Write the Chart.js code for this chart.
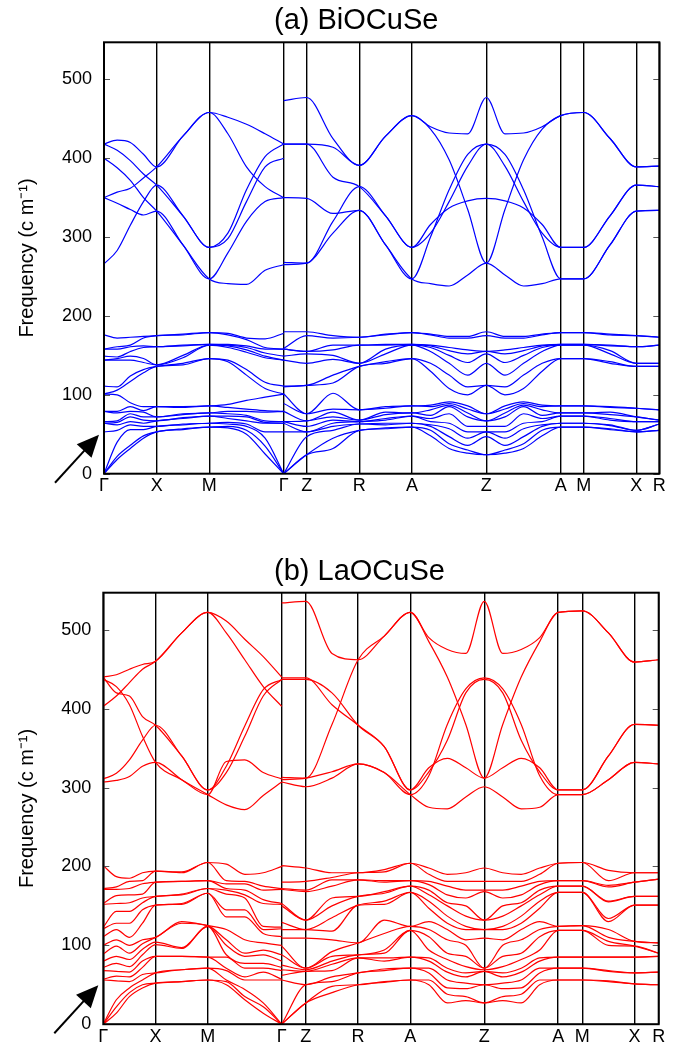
<!DOCTYPE html>
<html><head><meta charset="utf-8">
<script src="https://cdn.jsdelivr.net/npm/chart.js@4.4.1/dist/chart.umd.min.js"></script>
<style>
html,body{margin:0;padding:0;background:#fff;}
#wrap{position:relative;width:682px;height:1047px;overflow:hidden;}
.box{position:absolute;left:0;width:682px;}
</style></head><body>
<div id="wrap">
<div class="box" style="top:0;height:523px"><canvas id="cA"></canvas></div>
<div class="box" style="top:523px;height:524px"><canvas id="cB"></canvas></div>
</div>
<script>
// ---------- k-path (tick positions and labels) ----------
const kLabels = ['Γ','X','M','Γ','Z','R','A','Z','A','M','X','R'];
const kPosA = [0, 0.5, 1.0, 1.7071, 1.9251, 2.4251, 2.9251, 3.6322, 4.3393, 4.5573, 5.0573, 5.2753];
const kPosB = [0, 0.5, 1.0, 1.7071, 1.9381, 2.4381, 2.9381, 3.6452, 4.3523, 4.5833, 5.0833, 5.3143];
// sample columns, as (tick index + fraction of segment); a break sits between columns 10 and 11 (Γ)
const colIdx = [0,.25,.5,.75,1,1.5,2,2.25,2.5,2.75,3, 3,4,4.5,5,5.5,6,6.25,6.5,6.75,7,7.25,7.5,7.75,8,9,9.5,10,11];
const yTicks = [0,100,200,300,400,500];

// ---------- (a) BiOCuSe: frequencies (cm^-1) per column, low 18 bands ----------
const bioLow = [
 [0,0,0,53,64,64,66,79,79,101,101,111,144,144,149,158,158,176],
 [18,22,40,55,62,65,67,77,79,100,106,110,144,146,148,158,161,172],
 [32,36,56,62,66,72,76,79,85,90,117,124,144,149,155,161,163,173],
 [45,48,56,60,64,68,72,78,80,85,128,132,141,146,160,162,172,174],
 [53,53,60,60,67,67,72,72,85,85,136,136,138,138,161,161,175,175],
 [56,57,62,63,70,71,75,76,84,85,138,140,147,150,162,163,176,177],
 [59,59,64,64,73,73,77,77,86,86,146,146,163,163,164,164,179,179],
 [58,60,63,65,70,73,76,79,84,88,142,144,160,162,163,164,176,178],
 [50,55,60,63,67,72,74,79,82,93,125,132,154,157,160,162,170,172],
 [25,35,45,53,64,65,67,78,80,97,108,116,147,149,153,158,160,171],
 [0,0,0,53,64,64,66,79,79,101,101,111,144,144,149,158,158,178],
 [0,0,0,53,64,66,66,79,89,101,110,111,144,149,158,158,159,180],
 [24,24,47,53,53,60,67,67,76,76,112,112,140,152,155,155,175,180],
 [32,45,55,60,64,68,72,78,82,102,115,125,145,150,157,163,172,175],
 [55,55,63,63,66,66,68,68,81,81,136,136,140,140,163,163,173,173],
 [57,58,62,64,68,70,75,78,83,85,140,142,152,158,163,164,176,177],
 [59,59,64,64,73,73,77,77,86,86,146,146,163,163,164,164,179,179],
 [48,55,60,62,66,70,74,81,85,87,130,140,155,160,162,163,176,177],
 [32,38,47,57,64,76,85,87,89,91,108,125,140,150,156,160,172,174],
 [26,30,36,45,53,60,72,77,82,86,100,110,125,141,152,157,172,174],
 [24,24,47,53,53,60,67,67,76,76,112,112,140,152,155,155,175,180],
 [26,30,36,45,53,60,72,77,82,86,100,110,125,141,152,157,172,174],
 [32,38,47,57,64,76,85,87,89,91,108,125,140,150,156,160,172,174],
 [48,55,60,62,66,70,74,81,85,87,130,140,155,160,162,163,176,177],
 [59,59,64,64,73,73,77,77,86,86,146,146,163,163,164,164,179,179],
 [59,59,64,64,73,73,77,77,86,86,146,146,163,163,164,164,179,179],
 [56,57,61,62,68,70,75,78,84,85,140,142,152,156,162,163,176,177],
 [53,53,55,55,66,66,72,72,83,83,136,136,140,140,161,161,175,175],
 [55,55,63,63,66,66,68,68,81,81,136,136,140,140,163,163,173,173]
];
// (a) high 6 bands, each column listed in band order
const bioHigh = [
 [266,350,350,400,418,418],
 [283,343,357,388,410,423],
 [315,335,362,372,397,420],
 [345,328,375,350,380,405],
 [366,333,389,333,366,389],
 [327,290,428,290,327,428],
 [287,247,458,247,287,458],
 [305,241,431,280,298,452],
 [360,240,389,320,345,443],
 [402,258,364,345,389,431],
 [418,265,350,350,400,418],
 [418,265,268,350,473,418],
 [418,267,267,349,477,418],
 [414,305,320,330,425,376],
 [391,334,364,334,391,364],
 [428,290,327,290,428,327],
 [454,247,287,247,454,287],
 [437,241,316,300,440,305],
 [398,238,337,360,432,345],
 [335,252,346,405,431,390],
 [267,267,349,418,477,418],
 [335,252,346,405,431,390],
 [398,238,337,360,432,345],
 [437,241,316,300,440,305],
 [454,247,287,247,454,287],
 [458,247,287,247,458,287],
 [425,290,327,290,425,327],
 [389,333,366,333,389,366],
 [390,334,364,334,390,364]
];

// ---------- (b) LaOCuSe ----------
const laLow = [
 [0,0,0,56,57,68,72,80,89,100,111,121,123,152,153,171,172,201],
 [14,22,31,55,61,67,77,86,99,107,120,128,143,153,163,171,174,187],
 [35,40,46,54,60,66,73,82,90,100,110,128,143,154,164,172,181,185],
 [46,50,56,63,72,80,88,95,102,107,128,145,154,160,165,178,182,192],
 [52,52,65,65,86,86,101,104,110,110,151,151,162,162,180,180,194,194],
 [54,54,69,69,86,86,96,97,128,130,152,153,164,165,181,181,192,193],
 [56,56,71,71,85,85,124,124,125,125,166,166,172,172,182,182,205,205],
 [50,54,56,68,71,85,88,100,107,120,136,145,165,170,172,178,182,203],
 [31,35,44,56,60,71,77,86,90,107,136,145,160,164,170,178,181,190],
 [14,22,27,56,66,71,77,88,94,103,115,120,124,153,158,170,175,192],
 [0,0,0,56,57,68,72,80,88,100,111,121,123,152,153,171,172,200],
 [0,0,0,56,62,69,75,88,99,109,120,129,150,153,171,172,180,201],
 [27,27,50,50,67,67,69,71,71,109,120,120,132,132,168,170,181,198],
 [40,48,54,60,68,76,80,86,92,107,118,135,150,160,175,183,186,192],
 [50,50,65,65,84,84,88,88,103,103,151,151,162,162,183,183,192,192],
 [53,54,68,70,80,84,90,94,115,132,152,156,166,168,180,182,193,196],
 [56,56,71,71,85,85,119,119,124,124,167,167,175,175,182,182,204,204],
 [50,56,65,71,80,84,94,111,120,130,147,156,164,170,177,181,190,198],
 [27,38,46,56,66,71,82,90,107,120,128,137,150,154,164,175,181,190],
 [30,35,45,52,60,65,73,86,100,107,120,124,137,150,160,170,181,192],
 [27,27,50,50,67,67,69,71,71,109,120,120,132,132,168,170,181,198],
 [30,35,45,52,60,65,73,86,100,107,120,124,137,150,160,170,181,192],
 [27,38,46,56,66,71,82,90,107,120,128,137,150,154,164,175,181,190],
 [50,56,65,71,80,84,94,111,120,130,147,156,164,170,177,181,190,198],
 [56,56,71,71,85,85,119,119,124,124,167,167,175,175,182,182,204,204],
 [56,56,71,71,85,85,119,119,125,125,167,167,175,175,182,182,205,205],
 [54,55,67,68,85,85,100,105,110,120,130,134,155,156,174,176,182,195],
 [51,51,65,65,85,85,99,99,105,105,151,151,162,162,180,180,192,192],
 [50,50,66,66,86,86,90,90,103,103,151,151,162,162,184,184,192,192]
];
const laHigh = [
 [307,311,403,437,440,440],
 [309,318,416,428,420,443],
 [314,335,433,405,416,450],
 [327,360,450,365,390,456],
 [332,379,460,332,379,460],
 [310,340,496,310,340,496],
 [291,297,522,291,297,522],
 [278,319,496,333,327,511],
 [272,365,462,335,378,488],
 [290,416,428,319,424,466],
 [307,437,403,311,437,440],
 [307,437,534,313,439,310],
 [301,437,536,312,439,312],
 [312,420,470,380,405,320],
 [330,379,462,462,379,330],
 [319,352,492,492,352,319],
 [291,297,522,522,297,291],
 [275,320,490,485,325,315],
 [273,360,475,440,337,380],
 [288,420,470,380,325,425],
 [301,437,536,312,312,439],
 [288,420,470,380,325,425],
 [273,360,475,440,337,380],
 [275,320,490,485,325,315],
 [291,297,522,522,297,291],
 [291,297,524,524,297,291],
 [310,340,496,496,340,310],
 [332,380,459,459,380,332],
 [330,379,462,462,379,330]
];

// ---------- build ----------
const FONT = "'Liberation Sans', Arial, Helvetica, sans-serif";
function colX(kPos){
  return colIdx.map(c=>{const k=Math.floor(c); const f=c-k; return k>=kPos.length-1?kPos[kPos.length-1]:kPos[k]+f*(kPos[k+1]-kPos[k]);});
}
function makeDatasets(cols, kPos, color){
  const xs = colX(kPos);
  const n = cols[0].length, out=[];
  for(let j=0;j<n;j++){
    const data=[];
    for(let i=0;i<cols.length;i++){
      if(i===11) data.push({x:xs[10], y:null});
      data.push({x:xs[i], y:cols[i][j]});
    }
    out.push({data, borderColor:color, borderWidth:1.2, pointRadius:0, fill:false,
      cubicInterpolationMode:'monotone', spanGaps:false});
  }
  return out;
}
const framePlugin = {
  id:'frame',
  afterDraw(chart, args, opts){
    const {ctx, chartArea:a, scales:{y}} = chart;
    ctx.save();
    ctx.strokeStyle='#555'; ctx.lineWidth=1;
    y.ticks.forEach(t=>{
      const py=Math.round(y.getPixelForValue(t.value))+0.5;
      ctx.beginPath(); ctx.moveTo(a.left,py); ctx.lineTo(a.left+6,py);
      ctx.moveTo(a.right,py); ctx.lineTo(a.right-6,py); ctx.stroke();
    });
    ctx.strokeStyle='#000'; ctx.lineWidth=2;
    ctx.strokeRect(a.left,a.top,a.right-a.left,a.bottom-a.top);
    // panel title
    ctx.fillStyle='#000'; ctx.font='29px '+FONT; ctx.textAlign='left'; ctx.textBaseline='alphabetic';
    ctx.fillText(opts.title, opts.tx, opts.ty);
    // arrow pointing to the low-frequency region
    const tip=[a.left-5,a.bottom-39], tail=[a.left-49,a.bottom+9];
    const dx=tip[0]-tail[0], dy=tip[1]-tail[1], L=Math.hypot(dx,dy);
    const ux=dx/L, uy=dy/L, px=-uy, py=ux;
    const hl=22, hw=10;
    const bx=tip[0]-ux*hl, by=tip[1]-uy*hl;
    ctx.strokeStyle='#000'; ctx.lineWidth=2;
    ctx.beginPath(); ctx.moveTo(tail[0],tail[1]); ctx.lineTo(bx+ux*2,by+uy*2); ctx.stroke();
    ctx.beginPath(); ctx.moveTo(tip[0],tip[1]); ctx.lineTo(bx+px*hw,by+py*hw); ctx.lineTo(bx-px*hw,by-py*hw); ctx.closePath(); ctx.fill();
    ctx.restore();
  }
};
function makeChart(id, title, low, high, kPos, color, lay){
  const ds = makeDatasets(high,kPos,color).concat(makeDatasets(low,kPos,color));
  return new Chart(document.getElementById(id), {
    type:'line',
    data:{datasets:ds},
    plugins:[framePlugin],
    options:{
      responsive:true, maintainAspectRatio:false, animation:false,
      layout:{padding:{left:0,right:lay.right,top:lay.top,bottom:0}},
      plugins:{legend:{display:false}, tooltip:{enabled:false}, title:{display:false},
        frame:{title:title, tx:274, ty:lay.ty}},
      scales:{
        x:{type:'linear', min:0, max:kPos[kPos.length-1], z:1,
          afterBuildTicks:s=>{s.ticks=kPos.map(v=>({value:v}));},
          afterFit:s=>{s.height=lay.xh;},
          ticks:{callback:(v,i)=>kLabels[i], autoSkip:false, maxRotation:0, padding:2,
            color:'#000', font:{family:FONT,size:18}},
          grid:{color:'#000', lineWidth:1.4, drawTicks:false},
          border:{display:false}},
        y:{type:'linear', min:0, max:547,
          afterBuildTicks:s=>{s.ticks=yTicks.map(v=>({value:v}));},
          afterFit:s=>{s.width=lay.yw;},
          ticks:{padding:12, color:'#000', font:{family:FONT,size:18}},
          grid:{display:false, drawTicks:false},
          border:{display:false},
          title:{display:true, text:'Frequency (c m⁻¹)', color:'#000',
            font:{family:FONT,size:20,lineHeight:1.2}, padding:{top:15,bottom:0}}}
      }
    }
  });
}
makeChart('cA','(a) BiOCuSe', bioLow, bioHigh, kPosA, '#0000ff', {right:22.7, top:42.3, ty:28.5, xh:49.3, yw:104});
makeChart('cB','(b) LaOCuSe', laLow, laHigh, kPosB, '#ff0000', {right:23.3, top:69.7, ty:57, xh:22.7, yw:103.3});
</script>
</body></html>
